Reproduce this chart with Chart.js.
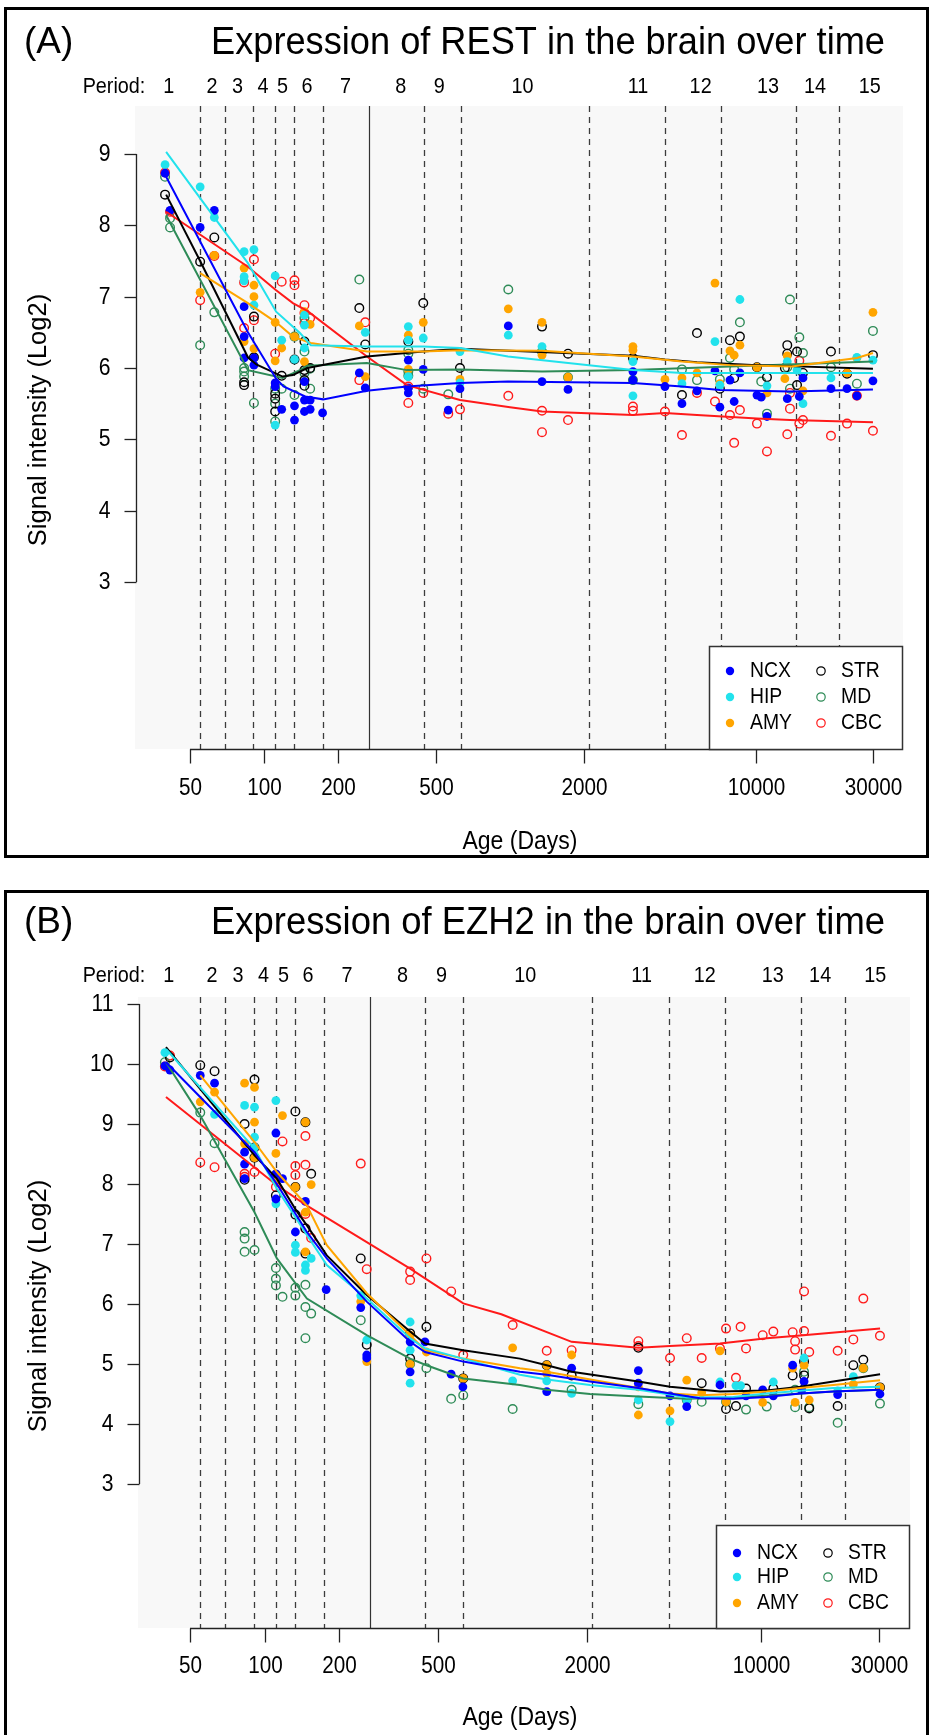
<!DOCTYPE html>
<html><head><meta charset="utf-8">
<script src="https://cdn.jsdelivr.net/npm/chart.js@4.4.0/dist/chart.umd.min.js"></script>
<style>
html,body{margin:0;padding:0;background:#fff;}
body{width:931px;height:1735px;position:relative;overflow:hidden;}
.frame{position:absolute;border:3px solid #000;box-sizing:border-box;}
.wrap{position:absolute;left:0;width:931px;}
canvas{display:block;}
</style></head><body>
<div class="frame" style="left:4px;top:7px;width:925px;height:851px"></div>
<div class="frame" style="left:4px;top:890px;width:925px;height:900px"></div>
<div class="wrap" style="top:0;height:870px"><canvas id="cA" width="931" height="870"></canvas></div>
<div class="wrap" style="top:870px;height:865px"><canvas id="cB" width="931" height="865"></canvas></div>
<script>
// ---------------- data ----------------
const regions = ['NCX','HIP','AMY','STR','MD','CBC'];
const regionColors = ['#0000ff','#22e2ec','#ffa500','#000000','#2e8b57','#ff1a1a'];
const regionFilled = [true,true,true,false,false,false];
const periodLabels = ['1','2','3','4','5','6','7','8','9','10','11','12','13','14','15'];
const periodLabelDays = [41,61.4,78,99,119,149.5,214.6,360,516,1124,3311,5955,11190,17370,29000];
const periodBoundaryDays = [55,69.3,90.5,111.3,132.5,173,445,631,2092,4284,7206,14511,21816];
const birthDay = 266;
const xTickValues = [50,100,200,500,2000,10000,30000];
const xTickLabels = ['50','100','200','500','2000','10000','30000'];
const yTicksA = [3,4,5,6,7,8,9];
const yTicksB = [3,4,5,6,7,8,9,10,11];

// Panel A: REST
const restNCX = [[39.6,8.73],[41.5,8.21],[55,7.97],[62.8,8.21],[83,6.86],[83,6.44],[83,6.14],[91,6.14],[91,6.04],[111,5.79],[111,5.74],[118,5.42],[146,5.81],[146,5.55],[154,5.55],[133,5.47],[146,5.39],[154,5.42],[133,5.27],[173,5.37],[244,5.93],[258,5.72],[386,6.11],[386,5.72],[386,5.65],[444,5.98],[561,5.41],[626,5.71],[984,6.59],[1349,5.81],[1721,5.7],[3160,5.95],[3160,5.83],[4264,5.74],[5000,5.5],[5755,5.68],[6810,5.96],[7130,5.45],[7835,5.83],[8150,5.53],[8600,5.93],[10090,5.62],[10500,5.59],[11080,5.32],[13400,5.57],[15000,5.6],[15520,5.86],[20170,5.71],[23440,5.71],[25710,5.61],[29880,5.82]];
const restHIP = [[39.6,8.85],[55,8.54],[62.8,8.11],[83,7.63],[91,7.66],[83,7.28],[83,7.22],[91,6.88],[111,7.29],[118,6.39],[111,5.2],[146,6.74],[146,6.6],[146,6.28],[133,6.12],[258,6.5],[386,6.58],[386,6.39],[386,5.88],[444,6.42],[626,6.23],[626,5.79],[984,6.46],[1349,6.3],[3160,6.09],[3160,5.61],[5000,5.78],[6810,6.37],[7130,5.76],[8600,6.96],[11080,5.75],[13400,6.09],[14680,5.97],[15520,5.5],[20170,5.86],[25710,6.15],[29880,6.11]];
const restAMY = [[55,7.06],[62.8,7.58],[83,7.4],[91,7.16],[91,7.0],[83,6.37],[91,6.27],[111,6.64],[118,6.28],[111,6.1],[146,6.79],[154,6.61],[133,6.44],[146,6.09],[244,6.59],[258,5.88],[386,6.46],[386,5.98],[444,6.64],[626,5.84],[984,6.83],[1349,6.64],[1349,6.18],[1721,5.87],[3160,6.3],[3160,6.25],[4264,5.84],[5000,5.86],[5755,5.93],[6810,7.19],[7130,5.78],[8600,6.32],[7835,6.24],[8150,6.18],[10090,6.01],[11080,5.65],[13400,6.17],[13100,5.85],[15520,5.68],[23440,5.93],[25710,6.14],[29880,6.78]];
const restSTR = [[39.6,8.43],[55,7.49],[62.8,7.83],[91,6.72],[91,6.15],[83,5.8],[83,5.76],[118,5.89],[111,5.64],[111,5.57],[111,5.39],[146,6.37],[133,6.12],[154,6.0],[146,5.97],[146,5.83],[146,5.75],[244,6.84],[258,6.33],[386,6.37],[444,6.91],[626,6.0],[1349,6.58],[1721,6.2],[3160,6.14],[5000,5.62],[5755,6.49],[7130,5.71],[7835,6.39],[8600,6.44],[8150,5.86],[10090,6.01],[11080,5.87],[13400,6.32],[13400,6.2],[13100,6.0],[14680,6.23],[15520,5.93],[14680,5.76],[20170,6.23],[23440,5.92],[29880,6.18]];
const restMD = [[39.6,8.68],[41.5,8.1],[41.5,7.97],[55,6.32],[62.8,6.78],[83,6.0],[83,5.95],[83,5.88],[91,5.51],[111,5.71],[118,5.71],[111,5.5],[111,5.25],[133,6.44],[146,6.7],[146,6.23],[154,5.99],[146,5.93],[133,5.62],[154,5.71],[244,7.24],[386,6.25],[386,6.2],[386,5.95],[386,5.89],[444,5.71],[561,5.63],[984,7.1],[1349,6.23],[1721,5.87],[3160,5.83],[5000,5.98],[5755,5.83],[7130,5.84],[8600,6.64],[7835,6.14],[8150,5.98],[10500,5.81],[11080,5.36],[13740,6.96],[13400,6.01],[13740,5.71],[15000,6.43],[15520,6.21],[20170,6.01],[25710,5.78],[29880,6.52]];
const restCBC = [[39.6,8.74],[41.5,8.19],[55,6.95],[62.8,7.57],[91,7.52],[83,7.2],[91,6.67],[83,6.56],[118,7.21],[111,6.2],[133,7.23],[133,7.16],[146,6.88],[146,6.77],[154,6.7],[146,6.63],[258,6.64],[244,5.83],[386,5.74],[386,5.51],[444,5.65],[561,5.36],[626,5.42],[984,5.61],[1349,5.4],[1349,5.1],[1721,5.27],[3160,5.46],[3160,5.4],[4264,5.39],[5000,5.06],[5755,5.65],[6810,5.53],[7835,5.34],[8600,5.41],[8150,4.95],[10090,5.22],[11080,4.83],[13740,5.65],[13740,5.43],[13400,5.07],[15000,6.1],[15520,5.27],[15000,5.22],[20170,5.05],[25710,5.61],[23440,5.22],[29880,5.12]];

const restTrendNCX = [[40,8.68],[86,6.5],[112,5.85],[120,5.74],[147,5.6],[174,5.56],[262,5.68],[381,5.74],[626,5.79],[981,5.81],[3160,5.79],[5000,5.74],[7130,5.69],[13740,5.67],[29880,5.7]];
const restTrendHIP = [[40,9.03],[86,7.47],[112,6.79],[140,6.49],[155,6.32],[262,6.3],[443,6.3],[626,6.28],[981,6.16],[3160,5.97],[5000,5.93],[29880,5.93]];
const restTrendAMY = [[55,7.33],[86,6.91],[112,6.64],[131,6.44],[155,6.35],[262,6.23],[443,6.23],[626,6.25],[1349,6.24],[3160,6.16],[5000,6.09],[7835,6.04],[14000,6.02],[25710,6.14],[29880,6.21]];
const restTrendSTR = [[40,8.43],[55,7.5],[86,6.15],[93,6.05],[119,5.88],[131,5.9],[150,6.0],[262,6.16],[443,6.23],[626,6.27],[1000,6.24],[3160,6.17],[4264,6.12],[5755,6.08],[10090,6.04],[29880,5.99]];
const restTrendMD = [[40,8.14],[86,5.97],[119,5.86],[140,5.97],[150,6.03],[262,6.07],[381,5.97],[626,5.98],[1349,5.95],[3160,5.97],[7835,6.02],[29880,6.09]];
const restTrendCBC = [[40,8.19],[86,7.42],[112,7.09],[131,6.91],[150,6.8],[262,6.16],[381,5.76],[626,5.55],[1000,5.45],[1349,5.39],[3160,5.34],[4264,5.37],[5755,5.34],[10090,5.29],[13740,5.27],[29880,5.24]];

// Panel B: EZH2
const ezhNCX = [[39.6,9.97],[41.5,9.9],[55,9.81],[62.8,9.68],[83,8.53],[83,8.33],[83,8.09],[111,8.85],[111,8.17],[118,8.09],[111,7.75],[146,7.71],[133,7.2],[177,6.24],[244,5.94],[258,5.15],[258,5.1],[386,5.37],[386,4.87],[443,5.37],[565,4.83],[630,4.62],[1372,4.54],[1729,4.93],[3212,4.89],[3212,4.68],[4310,4.47],[5035,4.29],[6854,4.65],[8730,4.47],[10190,4.57],[11250,4.47],[13460,4.98],[14960,4.71],[14640,4.57],[20440,4.49],[30270,4.5]];
const ezhHIP = [[39.6,10.19],[62.8,9.16],[83,9.31],[91,9.28],[91,8.78],[91,8.61],[111,9.39],[111,7.67],[133,6.98],[133,6.86],[154,6.76],[146,6.65],[146,6.56],[244,6.14],[258,5.4],[386,5.7],[386,5.23],[386,4.68],[1000,4.72],[1372,4.72],[1729,4.51],[3212,4.4],[4310,4.04],[5035,4.4],[6854,4.7],[7950,4.64],[8300,4.64],[11250,4.7],[14960,5.1],[20440,4.55],[23640,4.79]];
const ezhAMY = [[55,9.37],[62.8,9.53],[83,9.68],[91,9.61],[91,9.03],[83,8.67],[91,8.44],[118,9.14],[111,8.51],[111,8.09],[146,9.03],[154,7.99],[133,7.95],[146,7.53],[146,6.87],[244,6.04],[258,5.04],[386,5.48],[386,5.0],[449,5.2],[632,4.76],[1000,5.27],[1372,4.98],[1372,4.84],[1729,5.15],[3212,4.62],[3212,4.15],[4310,4.22],[5035,4.73],[5784,4.52],[6854,5.22],[7250,4.37],[10190,4.36],[13460,4.93],[13770,4.36],[14960,4.98],[15700,4.4],[23640,4.66],[25940,4.93],[30270,4.61]];
const ezhSTR = [[41.5,10.11],[55,9.98],[62.8,9.88],[91,9.74],[83,9.0],[91,8.61],[91,8.44],[83,8.07],[111,8.15],[111,7.81],[133,9.21],[146,9.03],[154,8.17],[133,7.95],[133,7.49],[146,7.26],[146,6.84],[244,6.76],[258,5.32],[386,5.51],[386,5.09],[449,5.62],[632,4.76],[1372,4.98],[1729,4.81],[3212,5.27],[5784,4.68],[7250,4.25],[7950,4.3],[8730,4.59],[11250,4.59],[13460,4.81],[14960,5.04],[14960,4.81],[15700,4.26],[20440,4.3],[23640,4.98],[25940,5.07],[30270,4.61]];
const ezhMD = [[39.6,10.03],[55,9.19],[62.8,8.68],[83,7.2],[83,7.09],[83,6.87],[91,6.9],[111,6.6],[111,6.42],[111,6.31],[118,6.12],[133,6.27],[133,6.14],[146,6.32],[146,5.95],[154,5.84],[146,5.43],[244,5.73],[386,5.0],[449,4.93],[565,4.42],[632,4.48],[1000,4.25],[1729,4.57],[3212,4.33],[5035,4.4],[5784,4.37],[7250,4.37],[8730,4.24],[10580,4.29],[13770,4.57],[13770,4.28],[14960,4.87],[15700,4.28],[20440,4.02],[25940,4.93],[30270,4.34]];
const ezhCBC = [[39.6,9.96],[41.5,10.14],[55,8.36],[62.8,8.28],[83,8.17],[83,8.12],[91,8.2],[118,8.71],[111,7.95],[146,8.8],[133,8.3],[146,8.32],[133,8.15],[146,7.5],[146,7.26],[154,7.1],[244,8.34],[258,6.58],[386,6.54],[386,6.4],[449,6.76],[565,6.21],[632,5.15],[1000,5.65],[1372,5.22],[1729,5.23],[3212,5.38],[3212,5.3],[4310,5.1],[5035,5.43],[5784,5.1],[6854,5.26],[7250,5.59],[7950,4.77],[8300,5.62],[8730,5.26],[10190,5.48],[11250,5.54],[13460,5.53],[13770,5.38],[13770,5.24],[14960,5.55],[15700,5.2],[14960,6.21],[20440,5.22],[23640,5.41],[25940,6.09],[30270,5.47]];

const ezhTrendNCX = [[40,10.03],[91,8.53],[112,8.0],[148,7.2],[178,6.76],[258,6.04],[386,5.37],[443,5.2],[632,5.04],[1070,4.87],[1372,4.82],[2050,4.71],[3212,4.6],[4310,4.51],[5690,4.43],[7760,4.42],[10580,4.45],[14420,4.51],[19630,4.54],[30300,4.57]];
const ezhTrendHIP = [[40,10.25],[91,8.59],[112,7.92],[148,7.15],[178,6.65],[258,6.09],[386,5.43],[443,5.26],[632,5.09],[1070,4.82],[1372,4.74],[2050,4.65],[3212,4.57],[4310,4.49],[5035,4.44],[7760,4.45],[10580,4.51],[19630,4.6],[30300,4.62]];
const ezhTrendAMY = [[55,9.81],[91,8.7],[112,8.2],[148,7.64],[178,6.98],[258,6.18],[386,5.48],[443,5.23],[632,5.09],[1070,4.93],[1372,4.87],[3212,4.6],[4310,4.51],[5690,4.48],[7760,4.5],[10580,4.54],[14420,4.6],[19630,4.65],[30300,4.73]];
const ezhTrendSTR = [[40,10.28],[91,8.48],[112,8.09],[134,7.56],[148,7.31],[178,6.81],[258,6.15],[386,5.54],[443,5.34],[632,5.23],[1070,5.09],[1372,4.98],[1729,4.87],[3212,4.71],[4310,4.62],[6854,4.54],[10580,4.56],[14420,4.62],[19630,4.71],[30300,4.83]];
const ezhTrendMD = [[40,10.03],[55,9.14],[91,7.53],[112,6.76],[148,6.09],[258,5.48],[386,5.09],[449,4.98],[632,4.76],[1070,4.65],[1372,4.57],[2050,4.5],[3212,4.46],[5035,4.42],[7760,4.44],[10580,4.47],[19630,4.54],[30300,4.57]];
const ezhTrendCBC = [[40,9.45],[112,7.98],[148,7.64],[258,7.03],[386,6.59],[632,6.01],[900,5.83],[1729,5.37],[3212,5.27],[4310,5.3],[6854,5.34],[10580,5.43],[14860,5.48],[30300,5.59]];

// ---------------- drawing ----------------
const FONT = '"Liberation Sans", Arial, Helvetica, sans-serif';
function drawText(ctx, s, x, y, size, align, opts) {
  opts = opts || {};
  ctx.save();
  ctx.translate(x, y);
  if (opts.rot) ctx.rotate(opts.rot);
  ctx.font = size + 'px ' + FONT;
  let sx = opts.sx || 1;
  if (opts.width) sx = opts.width / ctx.measureText(s).width;
  ctx.scale(sx, 1);
  ctx.textAlign = align; ctx.textBaseline = 'middle'; ctx.fillStyle = '#000';
  ctx.fillText(s, 0, 0);
  ctx.restore();
}

const panelCfg = {
  cA: {tag:'(A)', title:'Expression of REST in the brain over time', tagY:43, titleY:44,
       periodY:87, yTicks:yTicksA, tickLabY:789, xTitleY:842, yTitleY:420, legRows:[671,697,723]},
  cB: {tag:'(B)', title:'Expression of EZH2 in the brain over time', tagY:53, titleY:54,
       periodY:106, yTicks:yTicksB, tickLabY:797, xTitleY:848, yTitleY:436, legRows:[683,707,733]}
};

const rPanel = {
  id: 'rPanel',
  beforeDatasetsDraw(chart) {
    const {ctx, chartArea: a, scales: {x}} = chart;
    ctx.save();
    ctx.fillStyle = '#f8f8f8';
    ctx.fillRect(a.left, a.top, a.right - a.left, a.bottom - a.top);
    ctx.strokeStyle = '#3c3c3c'; ctx.lineWidth = 1.3;
    ctx.setLineDash([6,5]);
    periodBoundaryDays.forEach(d => {
      const px = Math.round(x.getPixelForValue(d)) + 0.5;
      ctx.beginPath(); ctx.moveTo(px, a.top); ctx.lineTo(px, a.bottom); ctx.stroke();
    });
    ctx.setLineDash([]);
    const bx = Math.round(x.getPixelForValue(birthDay)) + 0.5;
    ctx.strokeStyle = '#333'; ctx.lineWidth = 1.2;
    ctx.beginPath(); ctx.moveTo(bx, a.top); ctx.lineTo(bx, a.bottom); ctx.stroke();
    ctx.restore();
  },
  afterDatasetsDraw(chart) {
    const c = panelCfg[chart.canvas.id];
    const {ctx, chartArea: a, scales: {x, y}} = chart;
    ctx.save();
    ctx.strokeStyle = '#222'; ctx.lineWidth = 1.3;
    // y axis
    const ax = a.left + 1.5;
    const yt = c.yTicks;
    ctx.beginPath();
    ctx.moveTo(ax, y.getPixelForValue(yt[0])); ctx.lineTo(ax, y.getPixelForValue(yt[yt.length-1])); ctx.stroke();
    yt.forEach(v => {
      const py = Math.round(y.getPixelForValue(v)) + 0.5;
      ctx.beginPath(); ctx.moveTo(ax, py); ctx.lineTo(ax - 12, py); ctx.stroke();
      drawText(ctx, String(v), ax - 26, py, 23, 'right', {sx: 0.92});
    });
    // x axis
    const ay = a.bottom + 0.5;
    ctx.beginPath();
    ctx.moveTo(x.getPixelForValue(xTickValues[0]), ay); ctx.lineTo(x.getPixelForValue(xTickValues[xTickValues.length-1]), ay); ctx.stroke();
    xTickValues.forEach((v, i) => {
      const px = Math.round(x.getPixelForValue(v)) + 0.5;
      ctx.beginPath(); ctx.moveTo(px, ay); ctx.lineTo(px, ay + 14); ctx.stroke();
      drawText(ctx, xTickLabels[i], px, c.tickLabY, 23, 'center', {sx: 0.9});
    });
    // titles
    drawText(ctx, c.tag, 24, c.tagY, 37, 'left');
    drawText(ctx, c.title, 548, c.titleY, 38, 'center', {width: 674});
    drawText(ctx, 'Period:', 114, c.periodY, 22, 'center', {sx: 0.9});
    periodLabels.forEach((s, i) => drawText(ctx, s, x.getPixelForValue(periodLabelDays[i]), c.periodY, 22, 'center', {sx: 0.9}));
    drawText(ctx, 'Age (Days)', 520, c.xTitleY, 25, 'center', {sx: 0.92});
    drawText(ctx, 'Signal intensity (Log2)', 39, c.yTitleY, 25, 'center', {rot: -Math.PI / 2, sx: 1.02});
    // legend
    const lw = 194, lh = 103;
    const lx = a.right - lw, ly = a.bottom - lh;
    ctx.fillStyle = '#fff';
    ctx.fillRect(lx, ly, lw, lh);
    ctx.strokeStyle = '#333'; ctx.lineWidth = 1.5;
    ctx.strokeRect(lx + 0.5, ly + 0.5, lw - 1, lh);
    regions.forEach((r, i) => {
      const col = Math.floor(i / 3), row = i % 3;
      const sxp = lx + (col === 0 ? 21 : 112), tx = lx + (col === 0 ? 41 : 132);
      const sy = c.legRows[row];
      ctx.beginPath(); ctx.arc(sxp, sy, 4.2, 0, Math.PI * 2);
      if (regionFilled[i]) { ctx.fillStyle = regionColors[i]; ctx.fill(); }
      else { ctx.strokeStyle = regionColors[i]; ctx.lineWidth = 1.2; ctx.stroke(); }
      drawText(ctx, r, tx, sy, 22, 'left', {sx: 0.88});
    });
    ctx.restore();
  }
};

const toXY = arr => arr.map(p => ({x: p[0], y: p[1]}));
function buildDatasets(pointSets, trendSets) {
  const ds = [];
  regions.forEach((r, i) => ds.push({
    label: r + ' trend', data: toXY(trendSets[i]), showLine: true, borderColor: regionColors[i],
    borderWidth: 2, pointRadius: 0, tension: 0, fill: false
  }));
  regions.forEach((r, i) => ds.push({
    label: r, data: toXY(pointSets[i]), showLine: false,
    pointRadius: regionFilled[i] ? 4.4 : 4.3,
    pointBackgroundColor: regionFilled[i] ? regionColors[i] : 'rgba(0,0,0,0)',
    pointBorderColor: regionColors[i], pointBorderWidth: regionFilled[i] ? 0 : 1.4
  }));
  return ds;
}

function makeChart(id, pointSets, trendSets, pad, xr, yr) {
  return new Chart(document.getElementById(id), {
    type: 'scatter',
    data: {datasets: buildDatasets(pointSets, trendSets)},
    options: {
      responsive: false, animation: false, events: [],
      layout: {padding: pad},
      plugins: {legend: {display: false}, tooltip: {enabled: false}, title: {display: false}},
      scales: {
        x: {type: 'logarithmic', min: xr[0], max: xr[1], display: false},
        y: {type: 'linear', min: yr[0], max: yr[1], display: false}
      }
    },
    plugins: [rPanel]
  });
}

makeChart('cA', [restNCX, restHIP, restAMY, restSTR, restMD, restCBC],
  [restTrendNCX, restTrendHIP, restTrendAMY, restTrendSTR, restTrendMD, restTrendCBC],
  {left: 135, right: 28, top: 106, bottom: 121}, [29.89, 39583], [0.658, 9.673]);
makeChart('cB', [ezhNCX, ezhHIP, ezhAMY, ezhSTR, ezhMD, ezhCBC],
  [ezhTrendNCX, ezhTrendHIP, ezhTrendAMY, ezhTrendSTR, ezhTrendMD, ezhTrendCBC],
  {left: 138, right: 21, top: 127, bottom: 107}, [30.85, 40010], [0.6, 11.117]);
</script>
</body></html>
